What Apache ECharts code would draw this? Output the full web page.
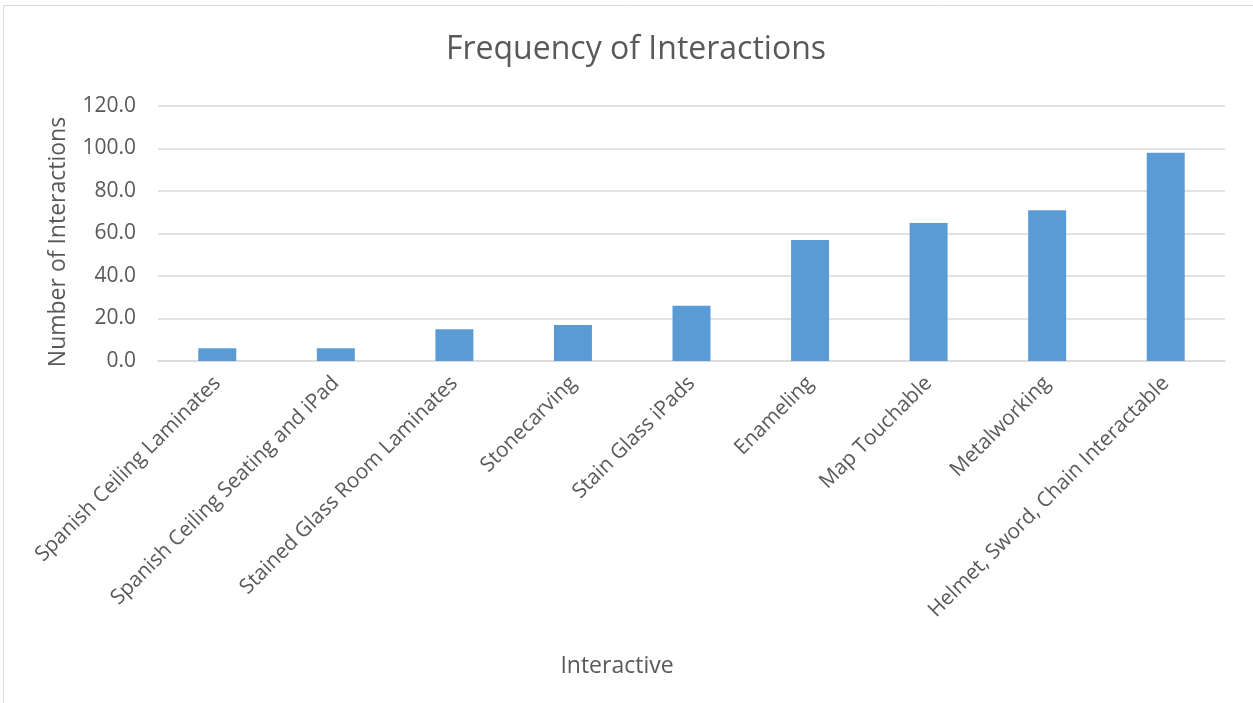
<!DOCTYPE html>
<html>
<head>
<meta charset="utf-8">
<script src="https://cdn.jsdelivr.net/npm/echarts@6/dist/echarts.min.js"></script>
<style>
  html, body { margin: 0; padding: 0; background: #fff; }
  #chart { width: 1253px; height: 703px; }
</style>
</head>
<body>
<div id="chart"></div>
<script>
// Interactive exhibits and how often visitors used each one
const categories = [
  'Spanish Ceiling Laminates',
  'Spanish Ceiling Seating and iPad',
  'Stained Glass Room Laminates',
  'Stonecarving',
  'Stain Glass iPads',
  'Enameling',
  'Map Touchable',
  'Metalworking',
  'Helmet, Sword, Chain Interactable'
];
const interactions = [6, 6, 15, 17, 26, 57, 65, 71, 98];
const yTicks = { min: 0, max: 120, step: 20 };

const FONT = '"Open Sans", "Liberation Sans", sans-serif';
const TEXT = '#595959';

const chart = echarts.init(document.getElementById('chart'), null, { renderer: 'canvas' });
chart.setOption({
  animation: false,
  backgroundColor: '#ffffff',
  title: {
    text: 'Frequency of Interactions',
    left: 631,
    top: 29,
    textAlign: 'center',
    textStyle: { fontFamily: FONT, fontSize: 32, fontWeight: 'normal', color: TEXT }
  },
  graphic: [
    {
      type: 'rect',
      shape: { x: 3.5, y: 5.5, width: 1300, height: 760 },
      style: { fill: 'none', stroke: '#D9D9D9', lineWidth: 1 },
      silent: true
    },
    {
      type: 'text',
      x: 617,
      y: 666,
      style: {
        text: 'Interactive',
        font: '23px ' + FONT,
        fill: TEXT,
        align: 'center',
        verticalAlign: 'middle'
      }
    },
    {
      type: 'text',
      x: 58,
      y: 242,
      rotation: Math.PI / 2,
      style: {
        text: 'Number of Interactions',
        font: '23px ' + FONT,
        fill: TEXT,
        align: 'center',
        verticalAlign: 'middle'
      }
    }
  ],
  grid: { left: 158, right: 28, top: 106, bottom: 342, containLabel: false },
  xAxis: {
    type: 'category',
    data: categories,
    axisLine: { show: true, lineStyle: { color: '#D9D9D9', width: 1.5 } },
    axisTick: { show: false },
    axisLabel: {
      rotate: 45,
      margin: 19,
      interval: 0,
      fontFamily: FONT,
      fontSize: 20.8,
      color: TEXT
    }
  },
  yAxis: {
    type: 'value',
    min: yTicks.min,
    max: yTicks.max,
    interval: yTicks.step,
    axisLine: { show: false },
    axisTick: { show: false },
    axisLabel: {
      margin: 22,
      fontFamily: FONT,
      fontSize: 21,
      color: TEXT,
      formatter: v => v.toFixed(1)
    },
    splitLine: { lineStyle: { color: '#D9D9D9', width: 1.5 } }
  },
  series: [{
    type: 'bar',
    data: interactions,
    barWidth: 38,
    itemStyle: { color: '#5B9BD5' }
  }]
});
</script>
</body>
</html>
